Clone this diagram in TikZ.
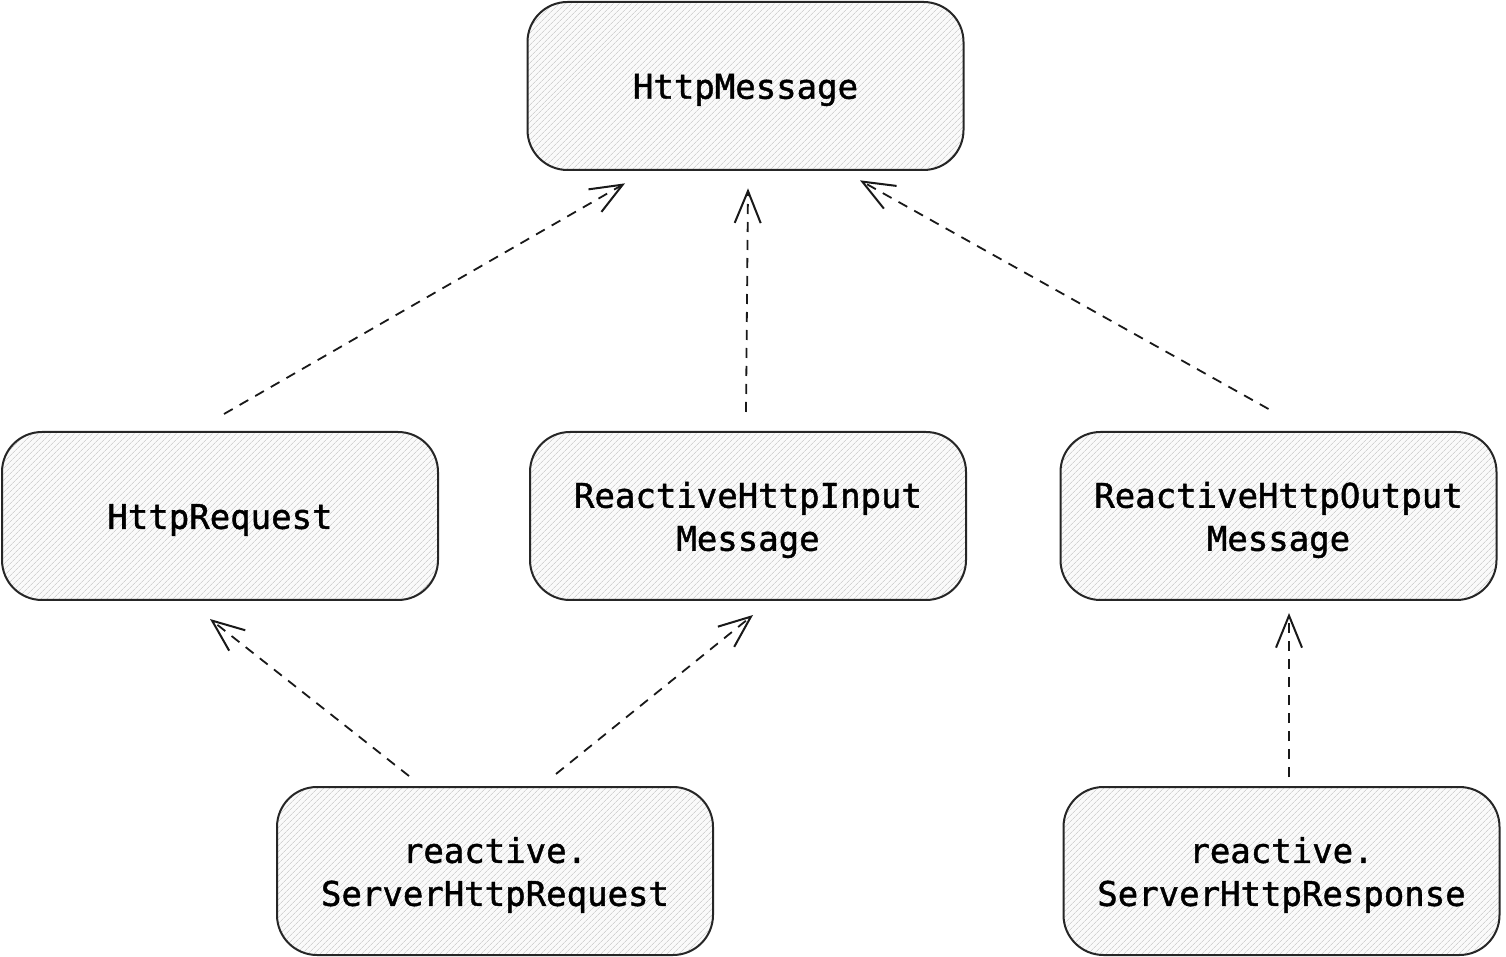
\documentclass[tikz,border=0pt]{standalone}
\usepackage{fontspec}
\newfontfamily\codefont[FakeBold=1.3]{DejaVu Sans Mono}
\usetikzlibrary{arrows.meta,patterns.meta}
\begin{document}
\begin{tikzpicture}[x=1pt,y=1pt,
  classbox/.style={draw=black!85, line width=2pt, rounded corners=40pt,
    minimum width=436pt, minimum height=168pt,
    preaction={fill=gray!4},
    pattern={Lines[angle=45,distance=4pt,line width=0.7pt]},
    pattern color=gray!35},
  classname/.style={align=center, yshift=-4pt,
    font=\codefont\fontsize{34}{43}\selectfont},
  realize/.style={draw=black!90, line width=1.8pt, dash pattern=on 10pt off 8pt,
    -{Straight Barb[length=32pt,width=26pt,line width=2pt]}}
]
\useasboundingbox (0,0) rectangle (1506,956);

% interfaces
\node[classbox] (msg)  at (745.5,870) {};
\node[classbox] (req)  at (220,440)   {};
\node[classbox] (inp)  at (748,440)   {};
\node[classbox] (out)  at (1278.5,440){};
\node[classbox] (sreq) at (495,85)    {};
\node[classbox] (sres) at (1281.5,85) {};

% their names
\node[classname] (msgname)  at (msg)  {HttpMessage};
\node[classname] (reqname)  at (req)  {HttpRequest};
\node[classname] (inpname)  at (inp)  {ReactiveHttpInput\\Message};
\node[classname] (outname)  at (out)  {ReactiveHttpOutput\\Message};
\node[classname] (sreqname) at (sreq) {reactive.\\ServerHttpRequest};
\node[classname] (sresname) at (sres) {reactive.\\ServerHttpResponse};

% inheritance
\draw[realize] ([shift={(4,17)}]req.north)   -- ([shift={(-120.5,-13)}]msg.south);
\draw[realize] ([shift={(-2,19)}]inp.north)  -- ([shift={(2.5,-18)}]msg.south);
\draw[realize] ([shift={(-10,22)}]out.north) -- ([shift={(114.5,-10)}]msg.south);
\draw[realize] ([shift={(-86,10)}]sreq.north) -- ([shift={(-10,-18)}]req.south);
\draw[realize] ([shift={(61,12)}]sreq.north)  -- ([shift={(5,-14)}]inp.south);
\draw[realize] ([shift={(7.5,9)}]sres.north)  -- ([shift={(10.5,-12)}]out.south);
\end{tikzpicture}
\end{document}
